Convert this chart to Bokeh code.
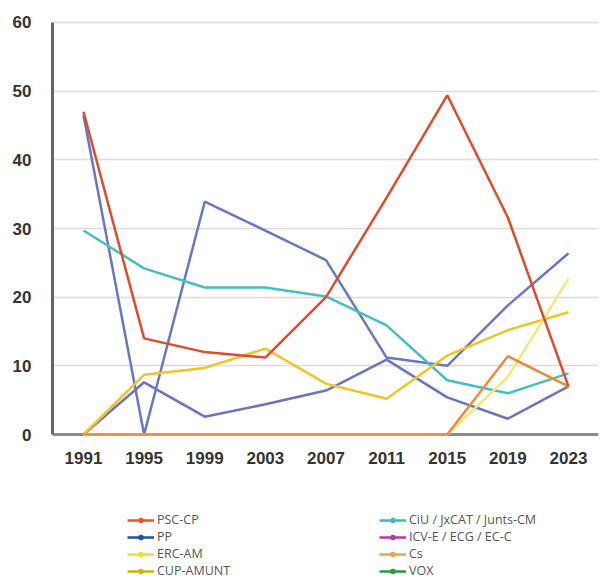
from bokeh.plotting import figure
from bokeh.layouts import column
from bokeh.models import Range1d, FixedTicker, Span, Legend, LegendItem
from bokeh.embed import file_html
from bokeh.resources import INLINE

years = [1991, 1995, 1999, 2003, 2007, 2011, 2015, 2019, 2023]
x_labels = ["1991", "1995", "1999", "2003", "2007", "2011", "2015", "2019", "2023"]
y_ticks = [0, 10, 20, 30, 40, 50, 60]

psc_cp = [47.0, 14.0, 12.0, 11.2, 20.0, 34.5, 49.4, 31.6, 7.0]
pp = [46.5, 0.0, 33.9, 29.7, 25.4, 11.2, 10.0, 18.8, 26.4]
icv = [0.0, 7.6, 2.6, 4.4, 6.4, 10.9, 5.4, 2.3, 7.0]
ciu = [29.7, 24.2, 21.4, 21.4, 20.1, 15.9, 7.9, 6.0, 8.9]
erc = [0.0, 8.7, 9.7, 12.5, 7.4, 5.2, 11.5, 15.2, 17.8]
cup = [0.0, 0.0, 0.0, 0.0, 0.0, 0.0, 0.0, 8.4, 22.7]
cs = [0.0, 0.0, 0.0, 0.0, 0.0, 0.0, 0.0, 11.4, 7.0]
vox = [float("nan")] * 9

series_names = ["PSC-CP", "PP", "ERC-AM", "CUP-AMUNT",
                "CiU / JxCAT / Junts-CM", "ICV-E / ECG / EC-C", "Cs", "VOX"]
series_values = [psc_cp, pp, erc, cup, ciu, icv, cs, vox]
legend_colors = ["#e8542e", "#1f4fa8", "#f6dc2c", "#c9b600",
                 "#3bb8c2", "#b03aa6", "#f5a04a", "#2e9a3c"]

p = figure(width=600, height=498, output_backend="svg", toolbar_location=None,
           x_range=Range1d(1988.955, 2024.98), y_range=Range1d(-0.29, 60.29),
           min_border_left=52, min_border_right=2, min_border_top=20,
           min_border_bottom=62)
p.outline_line_color = None
p.background_fill_color = "white"
p.border_fill_color = "white"

p.xgrid.visible = False
p.ygrid.ticker = FixedTicker(ticks=y_ticks)
p.ygrid.grid_line_color = "#dcdcdc"
p.ygrid.grid_line_width = 1.5

p.add_layout(Span(location=0, dimension="width", line_color="#8c8c8c",
                  line_width=3, level="underlay"))

p.yaxis.ticker = FixedTicker(ticks=y_ticks)
p.yaxis.bounds = (0, 60)
p.yaxis.axis_line_color = "#666666"
p.yaxis.axis_line_width = 3
p.yaxis.major_tick_line_color = None
p.yaxis.minor_tick_line_color = None
p.yaxis.major_label_standoff = 15
p.yaxis.major_label_text_font = "Liberation Sans"
p.yaxis.major_label_text_font_size = "17px"
p.yaxis.major_label_text_font_style = "bold"
p.yaxis.major_label_text_color = "#333333"

p.xaxis.ticker = FixedTicker(ticks=years)
p.xaxis.major_label_overrides = {y: s for y, s in zip(years, x_labels)}
p.xaxis.axis_line_color = None
p.xaxis.major_tick_line_color = None
p.xaxis.minor_tick_line_color = None
p.xaxis.major_label_standoff = 9
p.xaxis.major_label_text_font = "Liberation Sans"
p.xaxis.major_label_text_font_size = "17px"
p.xaxis.major_label_text_font_style = "bold"
p.xaxis.major_label_text_color = "#333333"

lw = 2.5
p.line(years, icv, line_color="#6a74c2", line_width=lw)
p.line(years, pp, line_color="#6677c4", line_width=lw)
p.line(years, ciu, line_color="#45bfc6", line_width=lw)
p.line(years, erc, line_color="#f0c423", line_width=lw)
p.line(years, cup, line_color="#f3e97a", line_width=lw)
p.line(years, vox, line_color="#2e9a3c", line_width=lw)
p.line(years, cs, line_color="#ee8a3e", line_width=lw)
p.line(years, psc_cp, line_color="#e24a2c", line_width=lw)

# legend panel (separate figure below the chart; its ranges keep the
# series themselves out of view so only the legend swatches show)
lf = figure(width=600, height=81, output_backend="svg", toolbar_location=None,
            x_axis_type=None, y_axis_type=None,
            x_range=Range1d(0, 1), y_range=Range1d(0, 1),
            min_border_left=52, min_border_right=2, min_border_top=0,
            min_border_bottom=0)
lf.outline_line_color = None
lf.xgrid.visible = False
lf.ygrid.visible = False

items = []
for name, vals, col in zip(series_names, series_values, legend_colors):
    lr = lf.line(years, vals, line_color=col, line_width=2.5)
    sr = lf.scatter(years, vals, marker="circle", size=7, fill_color=col,
                    line_color=col)
    items.append(LegendItem(label=name, renderers=[lr, sr], index=0))

legend = Legend(items=items, location=(75, 0), orientation="vertical",
                ncols=2, glyph_width=27, glyph_height=12, label_height=12,
                label_width=222, label_standoff=3, spacing=0, padding=0,
                margin=0, border_line_color=None, background_fill_alpha=0,
                label_text_font="Open Sans", label_text_font_size="12.5px",
                label_text_color="#555555")
lf.add_layout(legend, "center")

layout = column(p, lf, spacing=0)
open("out.html", "w").write(file_html(layout, INLINE))
